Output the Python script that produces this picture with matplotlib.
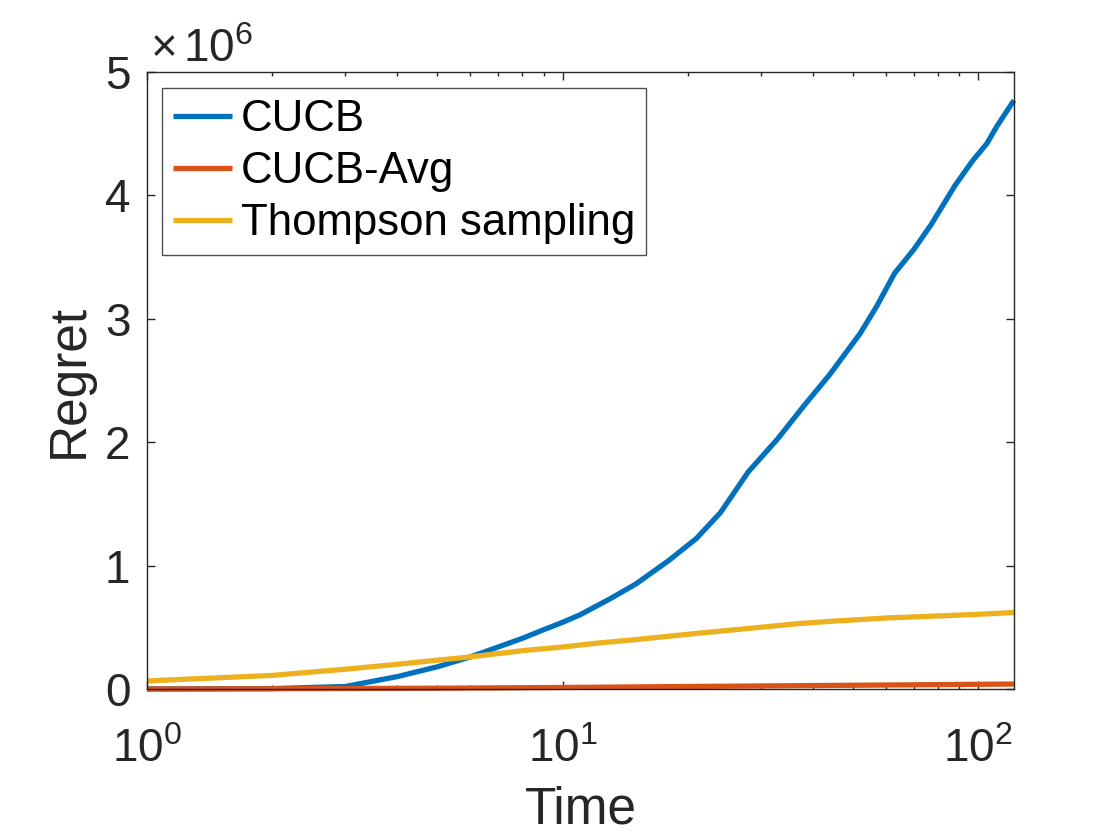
import matplotlib
matplotlib.use('Agg')
import matplotlib.pyplot as plt
from matplotlib.ticker import FixedLocator, FuncFormatter, LogLocator, NullFormatter

plt.rcParams['font.family'] = ['Liberation Sans', 'DejaVu Sans']
plt.rcParams['mathtext.fontset'] = 'custom'
plt.rcParams['mathtext.rm'] = 'Liberation Sans'
plt.rcParams['mathtext.it'] = 'Liberation Sans'

# regret values in units of 1e6
t_cucb = [1, 2, 3, 4, 5, 6, 7, 8, 9, 10, 11, 13, 15, 18, 21, 24, 28, 33, 38, 44,
          52, 57, 63, 70, 77, 88, 97, 105, 111, 122]
cucb = [0.0, 0.003, 0.02, 0.10, 0.18, 0.26, 0.34, 0.41, 0.48, 0.54, 0.60, 0.73, 0.85,
        1.04, 1.22, 1.43, 1.76, 2.03, 2.29, 2.55, 2.88, 3.10, 3.37, 3.56, 3.76, 4.08,
        4.28, 4.42, 4.56, 4.77]

t_avg = [1, 2, 5, 10, 20, 50, 122]
cucb_avg = [0.0, 0.002, 0.006, 0.012, 0.02, 0.03, 0.04]

t_ts = [1, 2, 3, 4, 6, 8, 10, 12, 15, 21, 30, 37, 45, 60, 78, 100, 122]
thompson = [0.065, 0.11, 0.16, 0.20, 0.26, 0.31, 0.34, 0.37, 0.40, 0.45, 0.50, 0.53,
            0.55, 0.575, 0.59, 0.605, 0.62]

labels = ['CUCB', 'CUCB-Avg', 'Thompson sampling']
colors = ['#0072BD', '#D95319', '#EDB120']
txt = '#262626'

fig = plt.figure(figsize=(11.2, 8.4), dpi=100)
ax = fig.add_axes([0.1313, 0.1798, 0.774, 0.7345])

for tt, vals, lab, col in zip([t_cucb, t_avg, t_ts], [cucb, cucb_avg, thompson], labels, colors):
    ax.plot(tt, [v * 1e6 for v in vals], color=col, lw=3.8, label=lab,
            clip_on=False, solid_capstyle='butt', solid_joinstyle='round')

ax.set_xscale('log')
ax.set_xlim(1, 122)
ax.set_ylim(0, 5e6)
ax.yaxis.set_major_locator(FixedLocator([0, 1e6, 2e6, 3e6, 4e6, 5e6]))
ax.yaxis.set_major_formatter(FuncFormatter(lambda v, p: '%g' % (v / 1e6)))
ax.xaxis.set_major_locator(LogLocator(base=10))
ax.xaxis.set_minor_locator(LogLocator(base=10, subs=range(2, 10)))
ax.xaxis.set_minor_formatter(NullFormatter())

ax.tick_params(which='both', direction='in', top=True, right=True, colors=txt,
               labelsize=33, width=1.0)
ax.tick_params(which='major', length=6)
ax.tick_params(which='minor', length=3)
ax.tick_params(axis='x', pad=28)
ax.tick_params(axis='y', pad=12)
for s in ax.spines.values():
    s.set_color(txt)
    s.set_linewidth(1.0)

ax.set_xlabel('Time', fontsize=37, color=txt, labelpad=10)
ax.set_ylabel('Regret', fontsize=37, color=txt, labelpad=8)
fig.text(150 / 1120, 1 - 62 / 840, r'$\times\,10^{6}$', fontsize=33,
         color=txt, ha='left', va='baseline')

leg = ax.legend(loc='upper left', bbox_to_anchor=(0.017, 0.974), fontsize=31.5,
                frameon=True, fancybox=False, edgecolor=txt, handlelength=1.35,
                handletextpad=0.2, borderpad=0.25, borderaxespad=0,
                labelspacing=0.25)
leg.get_frame().set_linewidth(1.0)

fig.savefig('out.png', dpi=100)
